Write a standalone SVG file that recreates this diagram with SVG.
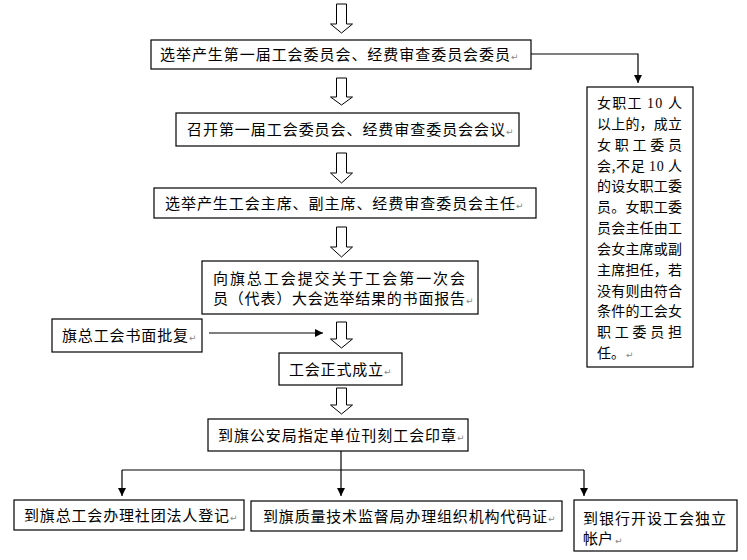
<svg xmlns="http://www.w3.org/2000/svg" width="747" height="560" viewBox="0 0 747 560">
<style>
  .box { fill: #ffffff; stroke: #000000; stroke-width: 1.2; }
  .t { font-family: "Noto Sans CJK SC", "Noto Sans CJK JP", sans-serif; font-size: 15px; fill: #000000; }
  .ts { font-family: "Noto Sans CJK SC", "Noto Sans CJK JP", sans-serif; font-size: 14px; fill: #000000; }
  .num { font-family: "Liberation Serif", serif; }
  .rm { font-family: "DejaVu Sans", sans-serif; font-size: 9px; fill: #888888; }
  .hollow { fill: #ffffff; stroke: #000000; stroke-width: 1; }
  .line { fill: none; stroke: #000000; stroke-width: 1.2; }
</style>
<defs>
  <marker id="ah" viewBox="0 0 10 10" refX="10" refY="5" markerWidth="8" markerHeight="8" markerUnits="userSpaceOnUse" orient="auto">
    <path d="M0,0 L10,5 L0,10 Z" fill="#000000"/>
  </marker>
</defs>
<rect width="747" height="560" fill="#ffffff"/>

<g id="connectors">
  <path class="hollow" d="M336.5 4 H346.5 V24 H352.5 L341.5 33 L330.5 24 H336.5 Z"/>
  <path class="hollow" d="M336.5 78 H346.5 V97 H352.5 L341.5 105 L330.5 97 H336.5 Z"/>
  <path class="hollow" d="M336.5 153 H346.5 V173 H352.5 L341.5 183 L330.5 173 H336.5 Z"/>
  <path class="hollow" d="M336.5 227 H346.5 V247 H352.5 L341.5 257 L330.5 247 H336.5 Z"/>
  <path class="hollow" d="M336.5 322 H346.5 V339 H352.5 L341.5 348 L330.5 339 H336.5 Z"/>
  <path class="hollow" d="M336.5 388 H346.5 V405 H352.5 L341.5 414 L330.5 405 H336.5 Z"/>
  <path class="line" d="M531 54 H638 V83" marker-end="url(#ah)"/>
  <path class="line" d="M209 333 H323" marker-end="url(#ah)"/>
  <path class="line" d="M122 470 H584"/>
  <path class="line" d="M341 451 V496" marker-end="url(#ah)"/>
  <path class="line" d="M122 470 V496" marker-end="url(#ah)"/>
  <path class="line" d="M584 470 V496" marker-end="url(#ah)"/>
</g>

<g id="n1">
  <rect class="box" x="151" y="40" width="380" height="29"/>
  <text class="t" x="160" y="60" textLength="350" lengthAdjust="spacing">选举产生第一届工会委员会、经费审查委员会委员</text>
  <text class="rm" x="511" y="60">↵</text>
</g>
<g id="n2">
  <rect class="box" x="176" y="113" width="343" height="33"/>
  <text class="t" x="187" y="135" textLength="318" lengthAdjust="spacing">召开第一届工会委员会、经费审查委员会会议</text>
  <text class="rm" x="506" y="135">↵</text>
</g>
<g id="n3">
  <rect class="box" x="154" y="188" width="382" height="30"/>
  <text class="t" x="165" y="208.5" textLength="350" lengthAdjust="spacing">选举产生工会主席、副主席、经费审查委员会主任</text>
  <text class="rm" x="516" y="208.5">↵</text>
</g>
<g id="n4">
  <rect class="box" x="202" y="261" width="276" height="53"/>
  <text class="t" x="213" y="283.5" textLength="252" lengthAdjust="spacing">向旗总工会提交关于工会第一次会</text>
  <text class="t" x="213" y="303.5" textLength="252" lengthAdjust="spacing">员（代表）大会选举结果的书面报告</text>
  <text class="rm" x="466" y="303.5">↵</text>
</g>
<g id="n5">
  <rect class="box" x="52" y="319" width="150" height="33"/>
  <text class="t" x="62" y="341" textLength="126" lengthAdjust="spacing">旗总工会书面批复</text>
  <text class="rm" x="189" y="341">↵</text>
</g>
<g id="n6">
  <rect class="box" x="279" y="353" width="123" height="32"/>
  <text class="t" x="289" y="374.5" textLength="94" lengthAdjust="spacing">工会正式成立</text>
  <text class="rm" x="384" y="374.5">↵</text>
</g>
<g id="n7">
  <rect class="box" x="208" y="419" width="260" height="32"/>
  <text class="t" x="218" y="440.5" textLength="238" lengthAdjust="spacing">到旗公安局指定单位刊刻工会印章</text>
  <text class="rm" x="457" y="440.5">↵</text>
</g>
<g id="n8">
  <rect class="box" x="14" y="500" width="230" height="30"/>
  <text class="t" x="24" y="520.5" textLength="205" lengthAdjust="spacing">到旗总工会办理社团法人登记</text>
  <text class="rm" x="230" y="520.5">↵</text>
</g>
<g id="n9">
  <rect class="box" x="251" y="501" width="311" height="30"/>
  <text class="t" x="263" y="521.5" textLength="284" lengthAdjust="spacing">到旗质量技术监督局办理组织机构代码证</text>
  <text class="rm" x="548" y="521.5">↵</text>
</g>
<g id="n10">
  <rect class="box" x="574" y="500" width="163" height="51"/>
  <text class="t" x="583" y="523.5" textLength="143" lengthAdjust="spacing">到银行开设工会独立</text>
  <text class="t" x="583" y="543.5">帐户</text>
  <text class="rm" x="615" y="543.5">↵</text>
</g>
<g id="n11">
  <rect class="box" x="587" y="87" width="106" height="280"/>
  <text class="ts" x="597" y="108" textLength="85" lengthAdjust="spacing">女职工 <tspan class="num">10</tspan> 人</text>
  <text class="ts" x="597" y="128.8" textLength="85" lengthAdjust="spacing">以上的，成立</text>
  <text class="ts" x="597" y="149.7" textLength="85" lengthAdjust="spacing">女职工委员</text>
  <text class="ts" x="597" y="170.5" textLength="85" lengthAdjust="spacing">会,不足 <tspan class="num">10</tspan> 人</text>
  <text class="ts" x="597" y="191.3" textLength="85" lengthAdjust="spacing">的设女职工委</text>
  <text class="ts" x="597" y="212.2" textLength="85" lengthAdjust="spacing">员。女职工委</text>
  <text class="ts" x="597" y="233" textLength="85" lengthAdjust="spacing">员会主任由工</text>
  <text class="ts" x="597" y="253.8" textLength="85" lengthAdjust="spacing">会女主席或副</text>
  <text class="ts" x="597" y="274.7" textLength="85" lengthAdjust="spacing">主席担任，若</text>
  <text class="ts" x="597" y="295.5" textLength="85" lengthAdjust="spacing">没有则由符合</text>
  <text class="ts" x="597" y="316.3" textLength="85" lengthAdjust="spacing">条件的工会女</text>
  <text class="ts" x="597" y="337.2" textLength="85" lengthAdjust="spacing">职工委员担</text>
  <text class="ts" x="597" y="358">任。</text>
  <text class="rm" x="626" y="358">↵</text>
</g>
</svg>
